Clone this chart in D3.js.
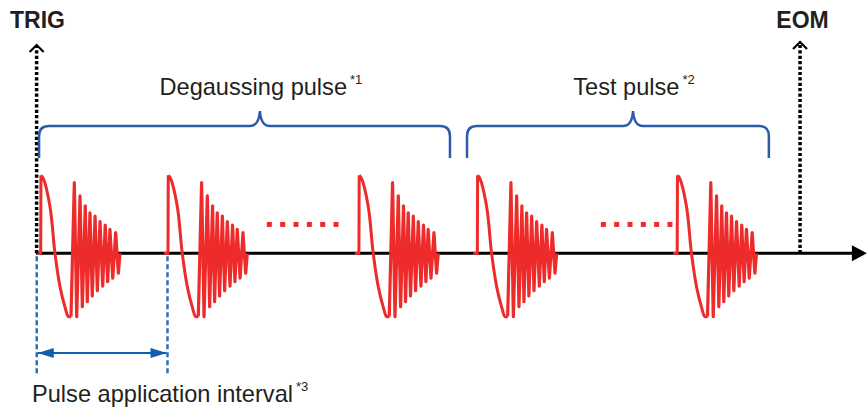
<!DOCTYPE html>
<html>
<head>
<meta charset="utf-8">
<script src="https://cdn.jsdelivr.net/npm/d3@7"></script>
<style>
  body { margin: 0; background: #fff; }
  text { font-family: "Liberation Sans", Arial, sans-serif; fill: #231f20; }
</style>
</head>
<body>
<div id="chart"></div>
<script>
// time axis units: 100 = one pulse application interval
var pulseOnsets = [0, 100, 250, 343, 500];
var pulseKinds = ['degauss', 'degauss', 'degauss', 'test', 'test'];

// one pulse: lead-in, main swing (time, amplitude)
var swingTimes = [-3.1, 0, 0.2, 2.0, 7.3, 11.2, 15.2, 19.1, 21.7, 23.8];
var swingValues = [0, 0, 1.0, 0.96, 0.6, 0, -0.43, -0.69, -0.81, -0.81];

// ringing after the swing
var ringPeakTimes = [26.4, 30.9, 35.0, 38.7, 42.7, 46.6, 50.7, 54.4, 58.9];
var ringPeaks = [0.905, 0.735, 0.607, 0.52, 0.478, 0.405, 0.363, 0.308, 0.264];
var ringTroughTimes = [28.3, 32.7, 36.6, 40.5, 44.5, 48.7, 52.6, 56.6, 61.0];
var ringTroughs = [-0.813, -0.685, -0.62, -0.547, -0.48, -0.42, -0.364, -0.32, -0.256];
var ringEnd = 62.3;

// "......" between pulses
var ellipsisRanges = [[179.6, 232], [442, 494.3]];
var ellipsisLevel = 0.37;
var ellipsisDots = 6;

// braces: [start, tip, end]
var braceSpans = [[-1.3, 172.2, 321.5], [334.9, 465.3, 572]];
var braceLabels = ['Degaussing pulse', 'Test pulse'];
var braceNotes = ['*1', '*2'];

var trigTime = -3.2, eomTime = 596.5;
var axisStart = -3.7, axisEnd = 649;
var intervalMarks = [-3.1, 99.6];

var width = 867, height = 410;

var x = d3.scaleLinear().domain([0, 100]).range([40.7, 168]);
var y = d3.scaleLinear().domain([-1, 1]).range([331.3, 175.3]);

var svg = d3.select('#chart')
    .append('svg')
        .attr('width', width)
        .attr('height', height);

var defs = svg.append('defs');
defs.append('marker')
    .attr('id', 'blueHead')
    .attr('viewBox', '0 0 16 10')
    .attr('refX', 16).attr('refY', 5)
    .attr('markerWidth', 16).attr('markerHeight', 10)
    .attr('markerUnits', 'userSpaceOnUse')
    .attr('orient', 'auto-start-reverse')
  .append('path')
    .attr('d', 'M0,0 L16,5 L0,10 Z')
    .attr('fill', '#0f5fae');

var red = '#ee2b2b';

// waveform of each pulse
var swingLine = d3.line()
    .x(function (d) { return x(d[0]); })
    .y(function (d) { return y(d[1]); })
    .curve(d3.curveCatmullRom.alpha(0.5));
var ringLine = d3.line()
    .x(function (d) { return x(d[0]); })
    .y(function (d) { return y(d[1]); });

function swingPoints(t0) {
    return swingTimes.map(function (t, i) { return [t0 + t, swingValues[i]]; });
}
function ringPoints(t0) {
    var pts = [[t0 + swingTimes[swingTimes.length - 1], swingValues[swingValues.length - 1]]];
    for (var i = 0; i < ringPeaks.length; i++) {
        pts.push([t0 + ringPeakTimes[i], ringPeaks[i]]);
        pts.push([t0 + ringTroughTimes[i], ringTroughs[i]]);
    }
    pts.push([t0 + ringEnd, 0]);
    return pts;
}

// axis line
svg.append('line')
    .attr('x1', x(axisStart)).attr('x2', x(axisEnd) - 14)
    .attr('y1', y(0)).attr('y2', y(0))
    .attr('stroke', '#000').attr('stroke-width', 3);
svg.append('path')
    .attr('d', 'M' + (x(axisEnd) - 15) + ',' + (y(0) - 8) + ' L' + x(axisEnd) + ',' + y(0) +
               ' L' + (x(axisEnd) - 15) + ',' + (y(0) + 8) + ' Z')
    .attr('fill', '#000');

var pulses = svg.selectAll('g.pulse')
    .data(pulseOnsets)
    .enter()
    .append('g')
        .attr('class', function (d, i) { return 'pulse ' + pulseKinds[i]; });

pulses.append('path')
    .attr('d', function (d) {
        var p = swingPoints(d);
        return ringLine(p.slice(0, 3)) + swingLine(p.slice(2));
    })
    .attr('fill', 'none')
    .attr('stroke', red)
    .attr('stroke-width', 3)
    .attr('stroke-linejoin', 'round');

pulses.append('path')
    .attr('d', function (d) { return ringLine(ringPoints(d)); })
    .attr('fill', 'none')
    .attr('stroke', red)
    .attr('stroke-width', 3.2)
    .attr('stroke-linejoin', 'round');

// dotted ellipses
ellipsisRanges.forEach(function (r) {
    var step = (r[1] - r[0]) / (ellipsisDots - 1);
    svg.append('g').selectAll('rect')
        .data(d3.range(ellipsisDots))
        .enter()
        .append('rect')
            .attr('x', function (i) { return x(r[0] + i * step) - 2.5; })
            .attr('y', y(ellipsisLevel) - 2.5)
            .attr('width', 5).attr('height', 5)
            .attr('fill', red);
});

// TRIG / EOM markers
function marker(t, top, label, lx) {
    svg.append('line')
        .attr('x1', x(t)).attr('x2', x(t))
        .attr('y1', y(0)).attr('y2', top + 1)
        .attr('stroke', '#000').attr('stroke-width', 3.5)
        .attr('stroke-dasharray', '3.2 2.2');
    svg.append('path')
        .attr('d', 'M' + (x(t) - 7) + ',' + (top + 7) + ' L' + x(t) + ',' + top +
                   ' L' + (x(t) + 7) + ',' + (top + 7))
        .attr('fill', 'none')
        .attr('stroke', '#000').attr('stroke-width', 2.2);
    svg.append('text')
        .attr('x', lx).attr('y', 28)
        .attr('text-anchor', 'middle')
        .style('font-size', '23px')
        .style('font-weight', 'bold')
        .text(label);
}
marker(trigTime, 45, 'TRIG', 37.5);
marker(eomTime, 42, 'EOM', 802.5);

// braces
var blue = '#2c5ca8';
braceSpans.forEach(function (b, i) {
    var x1 = x(b[0]), xt = x(b[1]), x2 = x(b[2]);
    var yb = 158, yh = 126, r = 10, yt = 111;
    var d = 'M' + x1 + ',' + yb + ' L' + x1 + ',' + (yh + r) +
            ' Q' + x1 + ',' + yh + ' ' + (x1 + r) + ',' + yh +
            ' L' + (xt - 10) + ',' + yh +
            ' Q' + (xt - 1) + ',' + yh + ' ' + xt + ',' + yt +
            ' Q' + (xt + 1) + ',' + yh + ' ' + (xt + 10) + ',' + yh +
            ' L' + (x2 - r) + ',' + yh +
            ' Q' + x2 + ',' + yh + ' ' + x2 + ',' + (yh + r) +
            ' L' + x2 + ',' + yb;
    svg.append('path')
        .attr('d', d)
        .attr('fill', 'none')
        .attr('stroke', blue)
        .attr('stroke-width', 2.5);
    var t = svg.append('text')
        .attr('x', xt + 1).attr('y', 95)
        .attr('text-anchor', 'middle')
        .style('font-size', '23.6px')
        .text(braceLabels[i]);
    t.append('tspan')
        .attr('dx', 3).attr('dy', -11)
        .style('font-size', '13px')
        .text(braceNotes[i]);
});

// pulse application interval
intervalMarks.forEach(function (t) {
    svg.append('line')
        .attr('x1', x(t)).attr('x2', x(t))
        .attr('y1', y(0) + 3).attr('y2', 376)
        .attr('stroke', '#2b6fb8').attr('stroke-width', 2.5)
        .attr('stroke-dasharray', '5 3');
});
svg.append('line')
    .attr('x1', x(intervalMarks[0]) + 1).attr('x2', x(intervalMarks[1]) - 1)
    .attr('y1', 353).attr('y2', 353)
    .attr('stroke', '#0f5fae').attr('stroke-width', 2)
    .attr('marker-start', 'url(#blueHead)')
    .attr('marker-end', 'url(#blueHead)');

var il = svg.append('text')
    .attr('x', 32).attr('y', 402)
    .style('font-size', '23.6px')
    .text('Pulse application interval');
il.append('tspan')
    .attr('dx', 3).attr('dy', -11)
    .style('font-size', '13px')
    .text('*3');
</script>
</body>
</html>
